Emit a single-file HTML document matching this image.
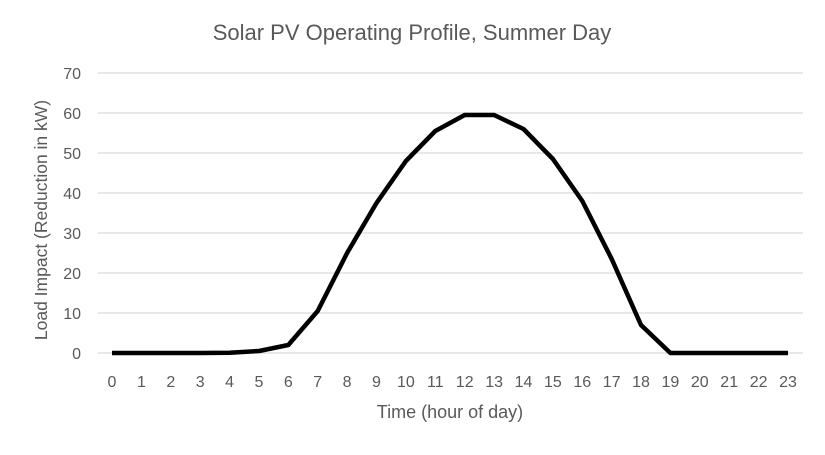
<!DOCTYPE html>
<html><head><style>body{margin:0;background:#fff}</style></head><body>
<svg width="825" height="450" xmlns="http://www.w3.org/2000/svg" font-family="Liberation Sans, sans-serif" fill="#595959">
<rect width="825" height="450" fill="#fff"/>
<text x="412" y="40" font-size="22" text-anchor="middle">Solar PV Operating Profile, Summer Day</text>
<g stroke="#d9d9d9" stroke-width="1.3">
<line x1="98" x2="803" y1="73" y2="73"/><line x1="98" x2="803" y1="113" y2="113"/>
<line x1="98" x2="803" y1="153" y2="153"/><line x1="98" x2="803" y1="193" y2="193"/>
<line x1="98" x2="803" y1="233" y2="233"/><line x1="98" x2="803" y1="273" y2="273"/>
<line x1="98" x2="803" y1="313" y2="313"/><line x1="98" x2="803" y1="353" y2="353"/>
</g>
<g font-size="16" text-anchor="end">
<text x="81" y="79">70</text><text x="81" y="119">60</text><text x="81" y="159">50</text>
<text x="81" y="199">40</text><text x="81" y="239">30</text><text x="81" y="279">20</text>
<text x="81" y="319">10</text><text x="81" y="359">0</text>
</g>
<g font-size="16" text-anchor="middle">
<text x="112" y="387">0</text><text x="141.4" y="387">1</text><text x="170.8" y="387">2</text><text x="200.2" y="387">3</text><text x="229.6" y="387">4</text><text x="259" y="387">5</text><text x="288.3" y="387">6</text><text x="317.7" y="387">7</text><text x="347.1" y="387">8</text><text x="376.5" y="387">9</text><text x="405.9" y="387">10</text><text x="435.3" y="387">11</text><text x="464.7" y="387">12</text><text x="494.1" y="387">13</text><text x="523.5" y="387">14</text><text x="552.9" y="387">15</text><text x="582.3" y="387">16</text><text x="611.7" y="387">17</text><text x="641" y="387">18</text><text x="670.4" y="387">19</text><text x="699.8" y="387">20</text><text x="729.2" y="387">21</text><text x="758.6" y="387">22</text><text x="788" y="387">23</text>
</g>
<text x="450" y="418" font-size="18" text-anchor="middle">Time (hour of day)</text>
<text transform="translate(47,220) rotate(-90)" font-size="17.5" text-anchor="middle">Load Impact (Reduction in kW)</text>
<polyline fill="none" stroke="#000" stroke-width="4.5" stroke-linejoin="round"
points="112,353 141.4,353 170.8,353 200.2,353 229.6,352.8 259,351 288.3,345 317.7,311 347.1,253 376.5,203 405.9,161 435.3,131 464.7,115 494.1,115 523.5,129 552.9,159 582.3,201 611.7,259 641,325 670.4,353 699.8,353 729.2,353 758.6,353 788,353"/>
</svg>
</body></html>
